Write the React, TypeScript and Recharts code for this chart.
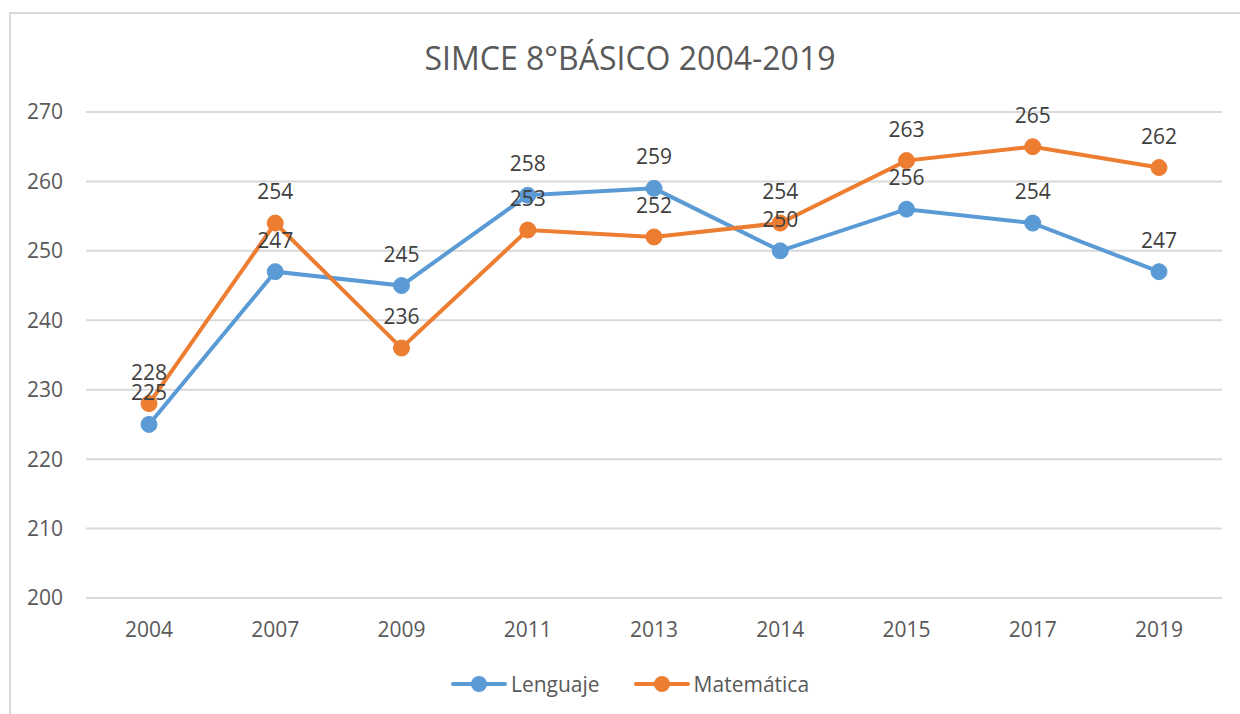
import React from "react";
import {
  LineChart,
  Line,
  CartesianGrid,
  XAxis,
  YAxis,
  LabelList,
} from "recharts";

const years = ["2004", "2007", "2009", "2011", "2013", "2014", "2015", "2017", "2019"];
const lenguaje = [225, 247, 245, 258, 259, 250, 256, 254, 247];
const matematica = [228, 254, 236, 253, 252, 254, 263, 265, 262];
const yTicks = [200, 210, 220, 230, 240, 250, 260, 270];

const series = [
  { key: "Lenguaje", color: "#5B9BD5" },
  { key: "Matemática", color: "#ED7D31" },
];

const data = years.map((y, i) => ({
  year: y,
  Lenguaje: lenguaje[i],
  Matemática: matematica[i],
}));

const FONT = "'Open Sans', 'Liberation Sans', sans-serif";

function LegendBox() {
  return (
    <div style={{ display: "flex", justifyContent: "center", gap: 34 }}>
      {series.map((s) => (
        <div key={s.key} style={{ display: "flex", alignItems: "center" }}>
          <svg width={56} height={20}>
            <line x1={2} y1={10} x2={54} y2={10} stroke={s.color} strokeWidth={4} strokeLinecap="round" />
            <circle cx={28} cy={10} r={8} fill={s.color} />
          </svg>
          <span style={{ fontSize: 21, color: "#595959", marginLeft: 4, fontFamily: FONT }}>{s.key}</span>
        </div>
      ))}
    </div>
  );
}

export default function App() {
  return (
    <div style={{ position: "absolute", left: 0, top: 0, width: 1240, height: 714, overflow: "hidden", background: "#fff", fontFamily: FONT }}>
      <div style={{ position: "absolute", left: 9, top: 12, width: 1260, height: 740, border: "2px solid #d9d9d9" }} />
      <div style={{ position: "absolute", left: 0, top: 36, width: 1260, textAlign: "center", fontSize: 32, color: "#595959" }}>
        SIMCE 8°BÁSICO 2004-2019
      </div>
      <div style={{ position: "absolute", left: 0, top: 0 }}>
        <LineChart width={1240} height={714} data={data} margin={{ top: 112, right: 18, bottom: 86, left: 0 }}>
          <CartesianGrid vertical={false} stroke="#d9d9d9" strokeWidth={2} />
          <XAxis
            dataKey="year"
            height={30}
            axisLine={false}
            tickLine={false}
            tickSize={0}
            tickMargin={24}
            padding={{ left: 63, right: 63 }}
            tick={{ fill: "#595959", fontSize: 21 }}
          />
          <YAxis
            width={86}
            domain={[200, 270]}
            ticks={yTicks}
            axisLine={false}
            tickLine={false}
            tickSize={0}
            tickMargin={23}
            tick={{ fill: "#595959", fontSize: 21 }}
          />
          {series.map((s) => (
            <Line
              key={s.key}
              dataKey={s.key}
              stroke={s.color}
              strokeWidth={4}
              dot={{ r: 8, fill: s.color, stroke: s.color, strokeWidth: 1 }}
              isAnimationActive={false}
            >
              <LabelList dataKey={s.key} position="top" offset={24} fill="#404040" fontSize={21} />
            </Line>
          ))}
        </LineChart>
      </div>
      <div style={{ position: "absolute", left: 0, top: 670, width: 1260 }}>
        <LegendBox />
      </div>
    </div>
  );
}
